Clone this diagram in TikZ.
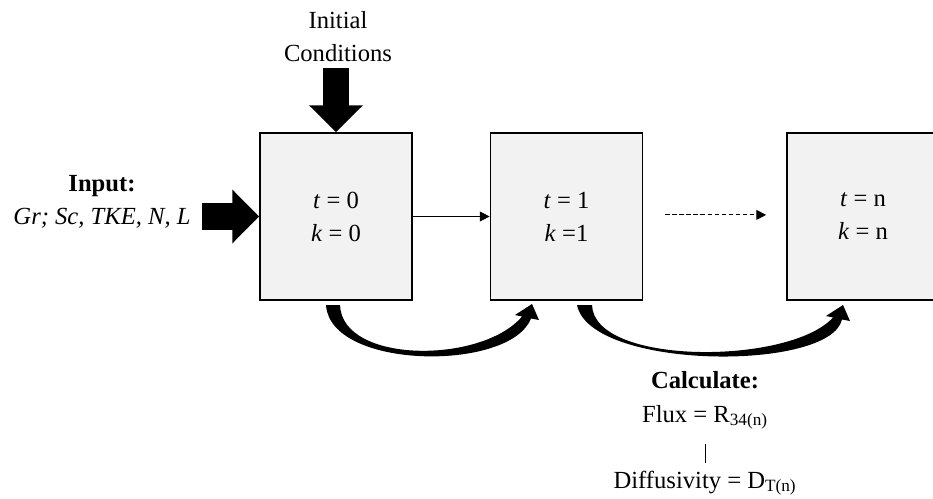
\documentclass[tikz,border=0pt]{standalone}
\usepackage{fontspec}
\setmainfont{Liberation Serif}
\usetikzlibrary{positioning,arrows.meta,calc}
\definecolor{boxgray}{RGB}{242,242,242}

\begin{document}
\begin{tikzpicture}[
    stepbox/.style={rectangle, draw=black, line width=1.2pt, fill=boxgray, minimum width=3.8cm, minimum height=4.175cm, align=center, font=\fontsize{17.5}{23.4}\selectfont},
    lbl/.style={align=center, font=\fontsize{17.5}{23.4}\selectfont},
    bigarrow/.style={line width=18.5pt, -{Triangle[length=19pt,width=37pt]}},
    thinarrow/.style={line width=0.7pt, -{Triangle[length=7pt,width=7pt]}}
]

\useasboundingbox (0,0) rectangle (23.325,-12.475);

% Time step boxes
\node[stepbox] (b1) at (8.4,-5.4125) {\textit{t} = 0\\\textit{k} = 0};
\node[stepbox] (b2) at (14.1625,-5.4125) {\textit{t} = 1\\\textit{k} =1};
\node[stepbox] (b3) at (21.575,-5.4125) {\textit{t} = n\\\textit{k} = n};

% Initial conditions from above
\node[lbl] (init) at (8.45,-0.91) {Initial\\Conditions};
\coordinate (initarr) at (8.4,-1.7);
\draw[bigarrow] (initarr) -- (b1.north);

% Input from the left
\node[lbl] (input) at (2.55,-5.04) {\textbf{Input:}\\\textit{Gr; Sc, TKE, N, L}};
\coordinate (inarr) at (5.05,-5.4125);
\draw[bigarrow] (inarr) -- (b1.west);

% Steps
\draw[thinarrow] (b1) -- (b2);
\draw[thinarrow, dash pattern=on 3pt off 2pt] ($(b2.east)+(0.55,0.04)$) -- ($(b3.west)+(-0.5,0.04)$);

% Curved arrows under the boxes
\coordinate (cv1a) at (8.15,-7.625);
\coordinate (cv1b) at (8.5,-7.625);
\fill (cv1a) .. controls +(0.1,-1.625) and +(-0.525,-1.3375) .. (13.275,-7.9625)
    -- (13.475,-8.0) -- (13.3,-7.6) -- (12.875,-7.875) -- (13.05,-7.9125)
    .. controls +(-1.0,-1.1875) and +(0.05,-1.475) .. (cv1b) -- cycle;

\coordinate (cv2a) at (14.425,-7.625);
\coordinate (cv2b) at (14.8,-7.625);
\fill (cv2a) .. controls +(0.325,-1.625) and +(-0.3,-1.3125) .. (21.05,-7.9875)
    -- (21.25,-8.025) -- (21.075,-7.625) -- (20.65,-7.9) -- (20.825,-7.9375)
    .. controls +(-1.075,-1.1875) and +(0.05,-1.525) .. (cv2b) -- cycle;

% Calculation
\node[lbl, anchor=base, font=\fontsize{17.5}{23.4}\selectfont\bfseries] (calc) at (17.625,-9.7) {Calculate:};
\node[lbl, anchor=base] (flux) at (17.625,-10.55) {Flux = R\textsubscript{34(n)}};
\node[lbl, anchor=base] (diff) at (17.625,-12.2) {Diffusivity = D\textsubscript{T(n)}};
\draw[line width=0.6pt, shorten <=0.25cm, shorten >=0.075cm] (flux) -- (diff);

\end{tikzpicture}
\end{document}
